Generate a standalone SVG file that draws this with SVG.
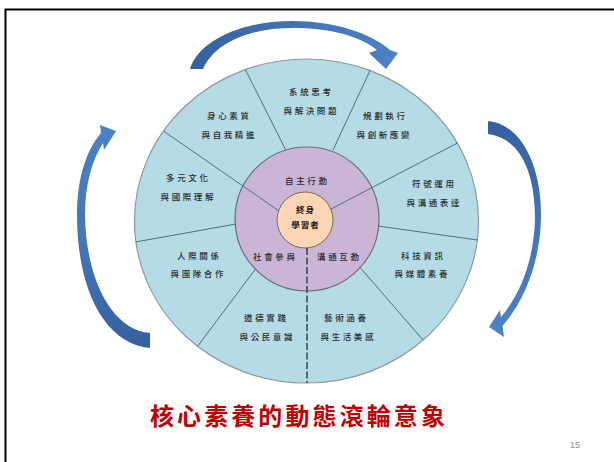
<svg xmlns="http://www.w3.org/2000/svg" width="614" height="462" viewBox="0 0 614 462">
<defs>
<linearGradient id="gTop" x1="0" y1="0" x2="1" y2="0">
<stop offset="0" stop-color="#35609f"/><stop offset="0.5" stop-color="#4373b5"/><stop offset="1" stop-color="#4b82c6"/>
</linearGradient>
<linearGradient id="gV" x1="0" y1="0" x2="0" y2="1">
<stop offset="0" stop-color="#35609f"/><stop offset="0.5" stop-color="#4476b8"/><stop offset="1" stop-color="#4b82c6"/>
</linearGradient>
<linearGradient id="gV2" x1="0" y1="1" x2="0" y2="0">
<stop offset="0" stop-color="#35609f"/><stop offset="0.5" stop-color="#4476b8"/><stop offset="1" stop-color="#4b82c6"/>
</linearGradient>
</defs>
<style>
.lbl{font-family:'Noto Sans CJK TC','Noto Sans CJK SC',sans-serif;font-size:8.5px;letter-spacing:2.6px;fill:#2a2a2a;text-anchor:middle;font-weight:500}
.cen{font-family:'Noto Sans CJK TC','Noto Sans CJK SC',sans-serif;font-size:8.5px;letter-spacing:1px;fill:#1a1a1a;text-anchor:middle;font-weight:700}
.div{stroke:#4f6f7c;stroke-width:1;fill:none}
</style>
<rect width="614" height="462" fill="#ffffff"/>
<path d="M5.5,462 V9.5 H614" fill="none" stroke="#000000" stroke-width="2"/>

<g id="wheel">
<ellipse cx="306.5" cy="221" rx="172" ry="162" fill="#b5dce6" stroke="#8a9aa0" stroke-width="1.2"/>
<circle cx="307" cy="219" r="72" fill="#cbb5d7" stroke="#6b6b7b" stroke-width="1.2"/>
<circle cx="305" cy="220" r="28" fill="#fcd5b4" stroke="#7a6a5a" stroke-width="1"/>
</g>

<g id="connectors">
<line class="div" x1="163.5" y1="131" x2="279" y2="211"/>
<line class="div" x1="245.3" y1="69.6" x2="285.5" y2="149.5"/>
<line class="div" x1="370.2" y1="70.2" x2="333" y2="150"/>
<line class="div" x1="457.5" y1="143" x2="331" y2="209"/>
<line class="div" x1="378" y1="226" x2="477.5" y2="240"/>
<line class="div" x1="360.5" y1="268" x2="423" y2="340"/>
<line class="div" x1="255.5" y1="269" x2="197.5" y2="346.4"/>
<line class="div" x1="236" y1="224" x2="135.5" y2="242"/>
<line x1="307" y1="248" x2="307" y2="383" stroke="#2a3a44" stroke-width="1.4" stroke-dasharray="7,2.5"/>
</g>

<g id="arrow-top">
<path fill="url(#gTop)" d="M190,69 C198,42 240,21 292,21 C335,21 370,33 390,50 L398,53 L386,69 L369,53 L377,50 C360,36 330,28 293,28 C250,28 215,42 203,69 Z"/>
</g>
<g id="arrow-right">
<path fill="url(#gV)" d="M488,121 C522,124 542,168 541,218 C540,262 525,300 502.5,326 L504,337 L489,327 L500,310 L501,317 C522,292 534,258 535,218 C535,172 520,138 488,134 Z"/>
</g>
<g id="arrow-left">
<path fill="url(#gV2)" d="M150,348 C105,344 77,290 77,215 C77,175 88,148 101,133 L100,125 L116,131 L104,150 L103,143 C92,160 85,185 85,215 C86,280 112,330 150,333 Z"/>
</g>

<g id="node-xitong"><text class="lbl" x="311.3" y="95">系統思考</text><text class="lbl" x="311.3" y="114">與解決問題</text></g>
<g id="node-shenxin"><text class="lbl" x="229.3" y="119">身心素質</text><text class="lbl" x="229.3" y="137.5">與自我精進</text></g>
<g id="node-guihua"><text class="lbl" x="385.3" y="119">規劃執行</text><text class="lbl" x="384.3" y="137.5">與創新應變</text></g>
<g id="node-duoyuan"><text class="lbl" x="188.3" y="181">多元文化</text><text class="lbl" x="188.3" y="200">與國際理解</text></g>
<g id="node-fuhao"><text class="lbl" x="434.3" y="187">符號運用</text><text class="lbl" x="434.3" y="206">與溝通表達</text></g>
<g id="node-renji"><text class="lbl" x="199.3" y="259">人際關係</text><text class="lbl" x="198.3" y="276.5">與團隊合作</text></g>
<g id="node-keji"><text class="lbl" x="423.3" y="259">科技資訊</text><text class="lbl" x="422.3" y="276.5">與媒體素養</text></g>
<g id="node-daode"><text class="lbl" x="266.3" y="321">道德實踐</text><text class="lbl" x="267.3" y="340">與公民意識</text></g>
<g id="node-yishu"><text class="lbl" x="346.3" y="321">藝術涵養</text><text class="lbl" x="348.3" y="340">與生活美感</text></g>
<g id="node-zizhu"><text class="lbl" x="307.3" y="184">自主行動</text></g>
<g id="node-shehui"><text class="lbl" x="275.3" y="260">社會參與</text></g>
<g id="node-goutong"><text class="lbl" x="339.3" y="260">溝通互動</text></g>
<g id="node-center"><text class="cen" x="305.5" y="213">終身</text><text class="cen" x="305.5" y="228">學習者</text></g>

<text x="299" y="425" font-family="'Noto Sans CJK TC','Noto Sans CJK SC',sans-serif" font-size="24" font-weight="700" letter-spacing="3.1" fill="#c00000" text-anchor="middle">核心素養的動態滾輪意象</text>
<text x="575" y="448" font-family="'Liberation Sans',Arial,sans-serif" font-size="9" fill="#8c8c8c" text-anchor="middle">15</text>
</svg>
